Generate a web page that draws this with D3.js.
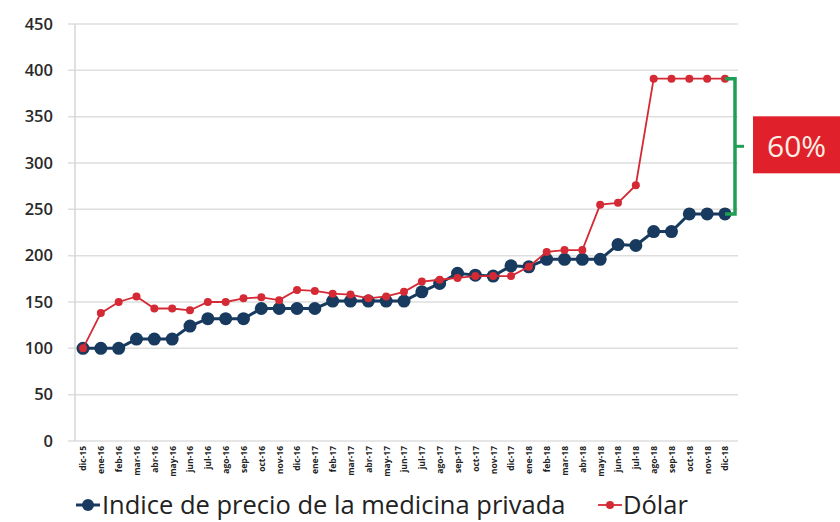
<!DOCTYPE html>
<html>
<head>
<meta charset="utf-8">
<script src="https://cdn.jsdelivr.net/npm/d3@7"></script>
<style>
  html, body { margin: 0; padding: 0; background: #fff; }
  svg { display: block; font-family: "Open Sans", "Noto Sans", sans-serif; }
</style>
</head>
<body>
<svg id="chart" width="840" height="522"></svg>
<script>
// Monthly labels, dic-15 through dic-18
const months = [
  "dic-15","ene-16","feb-16","mar-16","abr-16","may-16","jun-16","jul-16","ago-16","sep-16","oct-16","nov-16",
  "dic-16","ene-17","feb-17","mar-17","abr-17","may-17","jun-17","jul-17","ago-17","sep-17","oct-17","nov-17",
  "dic-17","ene-18","feb-18","mar-18","abr-18","may-18","jun-18","jul-18","ago-18","sep-18","oct-18","nov-18",
  "dic-18"
];

// Private medicine price index (base 100)
const medicina = [
  100,100,100,110,110,110,124,132,132,132,143,143,
  143,143,151,151,151,151,151,161,170,181,179,178,
  189,188,196,196,196,196,212,211,226,226,245,245,
  245
];

// Dollar (base 100)
const dolar = [
  100,138,150,156,143,143,141,150,150,154,155,152,
  163,162,159,158,154,156,161,172,174,176,178,178,
  178,188,204,206,206,255,257,276,391,391,391,391,
  391
];

const yTicks = [0,50,100,150,200,250,300,350,400,450];
const seriesNames = ["Indice de precio de la medicina privada", "Dólar"];
const gapLabel = "60%";

const navy = "#173a5e";
const red = "#d42a35";
const green = "#1f9e55";

const svg = d3.select("#chart");

const x = d3.scalePoint().domain(months).range([83, 725]);
const y = d3.scaleLinear().domain([0, 450]).range([441, 24]);

// horizontal gridlines
svg.append("g")
  .selectAll("line")
  .data(yTicks)
  .join("line")
  .attr("x1", 68).attr("x2", 738)
  .attr("y1", d => y(d)).attr("y2", d => y(d))
  .attr("stroke", "#dedede")
  .attr("stroke-width", 1.5);

// vertical axis line
svg.append("line")
  .attr("x1", 75).attr("x2", 75)
  .attr("y1", y(450)).attr("y2", y(0))
  .attr("stroke", "#d6d6d6")
  .attr("stroke-width", 1.5);

// y axis labels
const yAxis = d3.axisLeft(y).tickValues(yTicks).tickSize(0).tickPadding(0);
const gy = svg.append("g").attr("transform", "translate(53,0)").call(yAxis);
gy.select(".domain").remove();
gy.selectAll("text")
  .attr("font-family", "'Open Sans', sans-serif")
  .attr("font-size", 16.5)
  .attr("font-weight", 600)
  .attr("fill", "#2a2a2a");

// x axis labels, rotated
const xAxis = d3.axisBottom(x).tickSize(0).tickPadding(0);
const gx = svg.append("g").attr("transform", "translate(0,446)").call(xAxis);
gx.select(".domain").remove();
gx.selectAll("text")
  .attr("font-family", "'Open Sans', sans-serif")
  .attr("font-size", 8.5)
  .attr("font-weight", 700)
  .attr("fill", "#222")
  .attr("text-anchor", "end")
  .attr("dy", "0.35em")
  .attr("transform", "rotate(-90)")
  .attr("x", 0).attr("y", 0);

const line = d3.line().x((d, i) => x(months[i])).y(d => y(d));

// medicine index series
svg.append("path")
  .datum(medicina)
  .attr("d", line)
  .attr("fill", "none")
  .attr("stroke", navy)
  .attr("stroke-width", 3);
svg.append("g")
  .selectAll("circle")
  .data(medicina)
  .join("circle")
  .attr("cx", (d, i) => x(months[i]))
  .attr("cy", d => y(d))
  .attr("r", 6.5)
  .attr("fill", navy);

// dollar series
svg.append("path")
  .datum(dolar)
  .attr("d", line)
  .attr("fill", "none")
  .attr("stroke", red)
  .attr("stroke-width", 1.8);
svg.append("g")
  .selectAll("circle")
  .data(dolar)
  .join("circle")
  .attr("cx", (d, i) => x(months[i]))
  .attr("cy", d => y(d))
  .attr("r", 4)
  .attr("fill", red);

// bracket between the two final values
const last = months.length - 1;
const xb = x(months[last]) + 10;
const yTop = y(dolar[last]);
const yBot = y(medicina[last]);
svg.append("path")
  .attr("d", `M${x(months[last])},${yTop} H${xb} V${yBot} H${x(months[last])}`)
  .attr("fill", "none")
  .attr("stroke", green)
  .attr("stroke-width", 3.5);
svg.append("line")
  .attr("x1", xb).attr("x2", xb + 9)
  .attr("y1", (yTop + yBot) / 2).attr("y2", (yTop + yBot) / 2)
  .attr("stroke", green)
  .attr("stroke-width", 3);

// gap label box
const midY = (yTop + yBot) / 2;
svg.append("rect")
  .attr("x", 753).attr("y", midY - 30)
  .attr("width", 100).attr("height", 57)
  .attr("fill", "#e0202a");
svg.append("text")
  .attr("x", 767).attr("y", midY + 11)
  .attr("font-family", "'Open Sans', sans-serif")
  .attr("font-size", 30)
  .attr("fill", "#fbeee4")
  .text(gapLabel);

// legend
const legend = svg.append("g").attr("transform", "translate(0,505)");
legend.append("line").attr("x1", 76).attr("x2", 100).attr("y1", 0).attr("y2", 0)
  .attr("stroke", navy).attr("stroke-width", 3);
legend.append("circle").attr("cx", 88).attr("cy", 0).attr("r", 6).attr("fill", navy);
legend.append("text")
  .attr("x", 102).attr("y", 9)
  .attr("font-size", 25.5).attr("fill", "#222")
  .text(seriesNames[0]);
legend.append("line").attr("x1", 598).attr("x2", 622).attr("y1", 0).attr("y2", 0)
  .attr("stroke", red).attr("stroke-width", 1.8);
legend.append("circle").attr("cx", 610).attr("cy", 0).attr("r", 4).attr("fill", red);
legend.append("text")
  .attr("x", 623).attr("y", 9)
  .attr("font-size", 25.5).attr("fill", "#222")
  .text(seriesNames[1]);
</script>
</body>
</html>
